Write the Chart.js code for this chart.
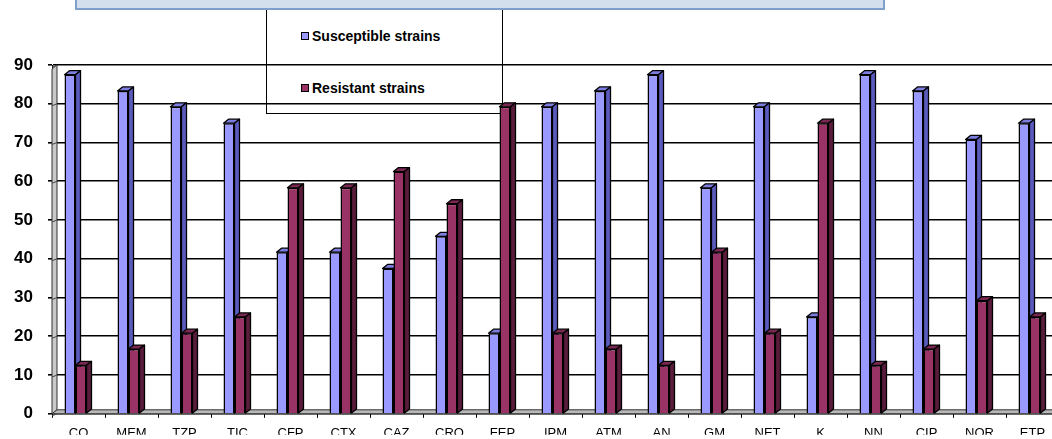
<!DOCTYPE html>
<html>
<head>
<meta charset="utf-8">
<script src="https://cdn.jsdelivr.net/npm/chart.js@4.4.1/dist/chart.umd.min.js"></script>
<style>
  html, body { margin: 0; padding: 0; background: #fff; overflow: hidden; width: 1052px; height: 439px; }
  #wrap { position: relative; width: 1059px; height: 439px; }
  #title { position: absolute; left: 75px; top: -6px; width: 810px; height: 16px; box-sizing: border-box;
           background: #d3dfed; border: 2px solid #7f9fcb; }
  #legend { position: absolute; left: 266px; top: 4px; width: 237px; height: 110px; box-sizing: border-box;
            border: 1px solid #000; font: bold 14px Arial, "Liberation Sans", sans-serif; color: #000; }
  .item { position: absolute; left: 34px; display: flex; align-items: center; height: 16px; white-space: nowrap; }
  .sw { width: 6px; height: 6px; border: 1.5px solid #000; margin-right: 3px; }
  canvas { position: absolute; left: 0; top: 0; }
</style>
</head>
<body>
<div id="wrap">
  <div id="legend"></div>
  <canvas id="chart" width="1059" height="439"></canvas>
  <div id="title"></div>
</div>
<script>
// Antibiotic panel (x axis)
const categories = ['CO', 'MEM', 'TZP', 'TIC', 'CFP', 'CTX', 'CAZ', 'CRO', 'FEP', 'IPM',
                    'ATM', 'AN', 'GM', 'NET', 'K', 'NN', 'CIP', 'NOR', 'ETP'];
// Percentage of strains per antibiotic
const susceptible = [87.5, 83.3, 79.2, 75, 41.7, 41.7, 37.5, 45.8, 20.8, 79.2,
                     83.3, 87.5, 58.3, 79.2, 25, 87.5, 83.3, 70.8, 75];
const resistant   = [12.5, 16.7, 20.8, 25, 58.3, 58.3, 62.5, 54.2, 79.2, 20.8,
                     16.7, 12.5, 41.7, 20.8, 75, 12.5, 16.7, 29.2, 25];
const seriesNames = ['Susceptible strains', 'Resistant strains'];
const yTicks = [0, 10, 20, 30, 40, 50, 60, 70, 80, 90];

// front / top / side face colours of the 3-D columns
const frontColors = ['#9999ff', '#993366'];
const topColors   = ['#7d7de0', '#7a2852'];
const sideColors  = ['#5b5bbf', '#5a1c3b'];

const DEPTH_X = 5, DEPTH_Y = 4, BAR_SHIFT = -3;

// Legend (HTML) built from the series definitions
const legend = document.getElementById('legend');
seriesNames.forEach((name, i) => {
  const it = document.createElement('div');
  it.className = 'item';
  it.style.top = (i === 0 ? 23 : 75) + 'px';
  const sw = document.createElement('span');
  sw.className = 'sw';
  sw.style.background = frontColors[i];
  it.appendChild(sw);
  it.appendChild(document.createTextNode(name));
  legend.appendChild(it);
});

function drawFaces(ctx, el, idx) {
  const { x, y, base, width } = el.getProps(['x', 'y', 'base', 'width'], true);
  const l = x - width / 2, r = x + width / 2;
  ctx.lineWidth = 1.3;
  ctx.strokeStyle = '#000';
  ctx.lineJoin = 'round';
  // top face
  ctx.beginPath();
  ctx.moveTo(l, y);
  ctx.lineTo(l + DEPTH_X, y - DEPTH_Y);
  ctx.lineTo(r + DEPTH_X, y - DEPTH_Y);
  ctx.lineTo(r, y);
  ctx.closePath();
  ctx.fillStyle = topColors[idx];
  ctx.fill();
  ctx.stroke();
  // side face
  ctx.beginPath();
  ctx.moveTo(r, y);
  ctx.lineTo(r + DEPTH_X, y - DEPTH_Y);
  ctx.lineTo(r + DEPTH_X, base - DEPTH_Y);
  ctx.lineTo(r, base);
  ctx.closePath();
  ctx.fillStyle = sideColors[idx];
  ctx.fill();
  ctx.stroke();
}

// Side wall, floor and extruded columns (drawn left series first so the
// right-hand column of each pair hides the side face of its neighbour)
const depthPlugin = {
  id: 'depth3d',
  beforeDatasetsDraw(chart) {
    const { ctx, chartArea: a, scales: { y } } = chart;
    ctx.save();
    // left wall
    ctx.beginPath();
    ctx.moveTo(a.left, a.top + DEPTH_Y);
    ctx.lineTo(a.left + DEPTH_X, a.top);
    ctx.lineTo(a.left + DEPTH_X, a.bottom - DEPTH_Y);
    ctx.lineTo(a.left, a.bottom);
    ctx.closePath();
    ctx.fillStyle = '#c9c9c9';
    ctx.fill();
    ctx.lineWidth = 1;
    ctx.strokeStyle = '#333';
    ctx.stroke();
    ctx.strokeStyle = '#444';
    yTicks.forEach(v => {
      const py = y.getPixelForValue(v);
      ctx.beginPath();
      ctx.moveTo(a.left, py + 2);
      ctx.lineTo(a.left + DEPTH_X, py);
      ctx.stroke();
    });
    // floor
    ctx.beginPath();
    ctx.moveTo(a.left, a.bottom);
    ctx.lineTo(a.left + DEPTH_X, a.bottom - DEPTH_Y);
    ctx.lineTo(a.right, a.bottom - DEPTH_Y);
    ctx.lineTo(a.right, a.bottom);
    ctx.closePath();
    ctx.fillStyle = '#b8b8b8';
    ctx.fill();
    ctx.strokeStyle = '#333';
    ctx.stroke();
    ctx.restore();
    // columns are drawn below, in series order
    return false;
  },
  afterDraw(chart) {
    const { ctx } = chart;
    ctx.save();
    ctx.translate(BAR_SHIFT, 0);
    const n = chart.data.labels.length;
    for (let i = 0; i < n; i++) {
      chart.data.datasets.forEach((ds, idx) => {
        const el = chart.getDatasetMeta(idx).data[i];
        el.draw(ctx, chart.chartArea);
        drawFaces(ctx, el, idx);
      });
    }
    ctx.restore();
  }
};

new Chart(document.getElementById('chart'), {
  type: 'bar',
  data: {
    labels: categories,
    datasets: [
      { label: seriesNames[0], data: susceptible, backgroundColor: frontColors[0],
        borderColor: '#000', borderWidth: 1.5 },
      { label: seriesNames[1], data: resistant, backgroundColor: frontColors[1],
        borderColor: '#000', borderWidth: 1.5 }
    ]
  },
  options: {
    responsive: false,
    animation: false,
    devicePixelRatio: 1,
    layout: { padding: { top: 65, right: 0, left: 0, bottom: 0 } },
    datasets: { bar: { categoryPercentage: 0.415, barPercentage: 1 } },
    plugins: { legend: { display: false }, tooltip: { enabled: false }, title: { display: false } },
    scales: {
      x: {
        offset: true,
        grid: { display: true, drawOnChartArea: false, drawTicks: true, tickLength: 4, color: '#000', offset: true },
        border: { display: true, color: '#333', width: 1 },
        ticks: { color: '#000', padding: 8, maxRotation: 0, autoSkip: false,
                 font: { family: 'Arial, "Liberation Sans", sans-serif', size: 13 } },
        afterFit(scale) { scale.height = 21; }
      },
      y: {
        min: 0, max: 90,
        afterBuildTicks(scale) { scale.ticks = yTicks.map(v => ({ value: v })); },
        grid: { color: '#000', lineWidth: 1.6, tickLength: 4, drawTicks: true },
        border: { display: true, color: '#000', width: 1 },
        ticks: { color: '#000', padding: 15,
                 font: { family: 'Arial, "Liberation Sans", sans-serif', size: 17, weight: 'bold' } },
        afterFit(scale) { scale.width = 52; }
      }
    }
  },
  plugins: [depthPlugin]
});
</script>
</body>
</html>
